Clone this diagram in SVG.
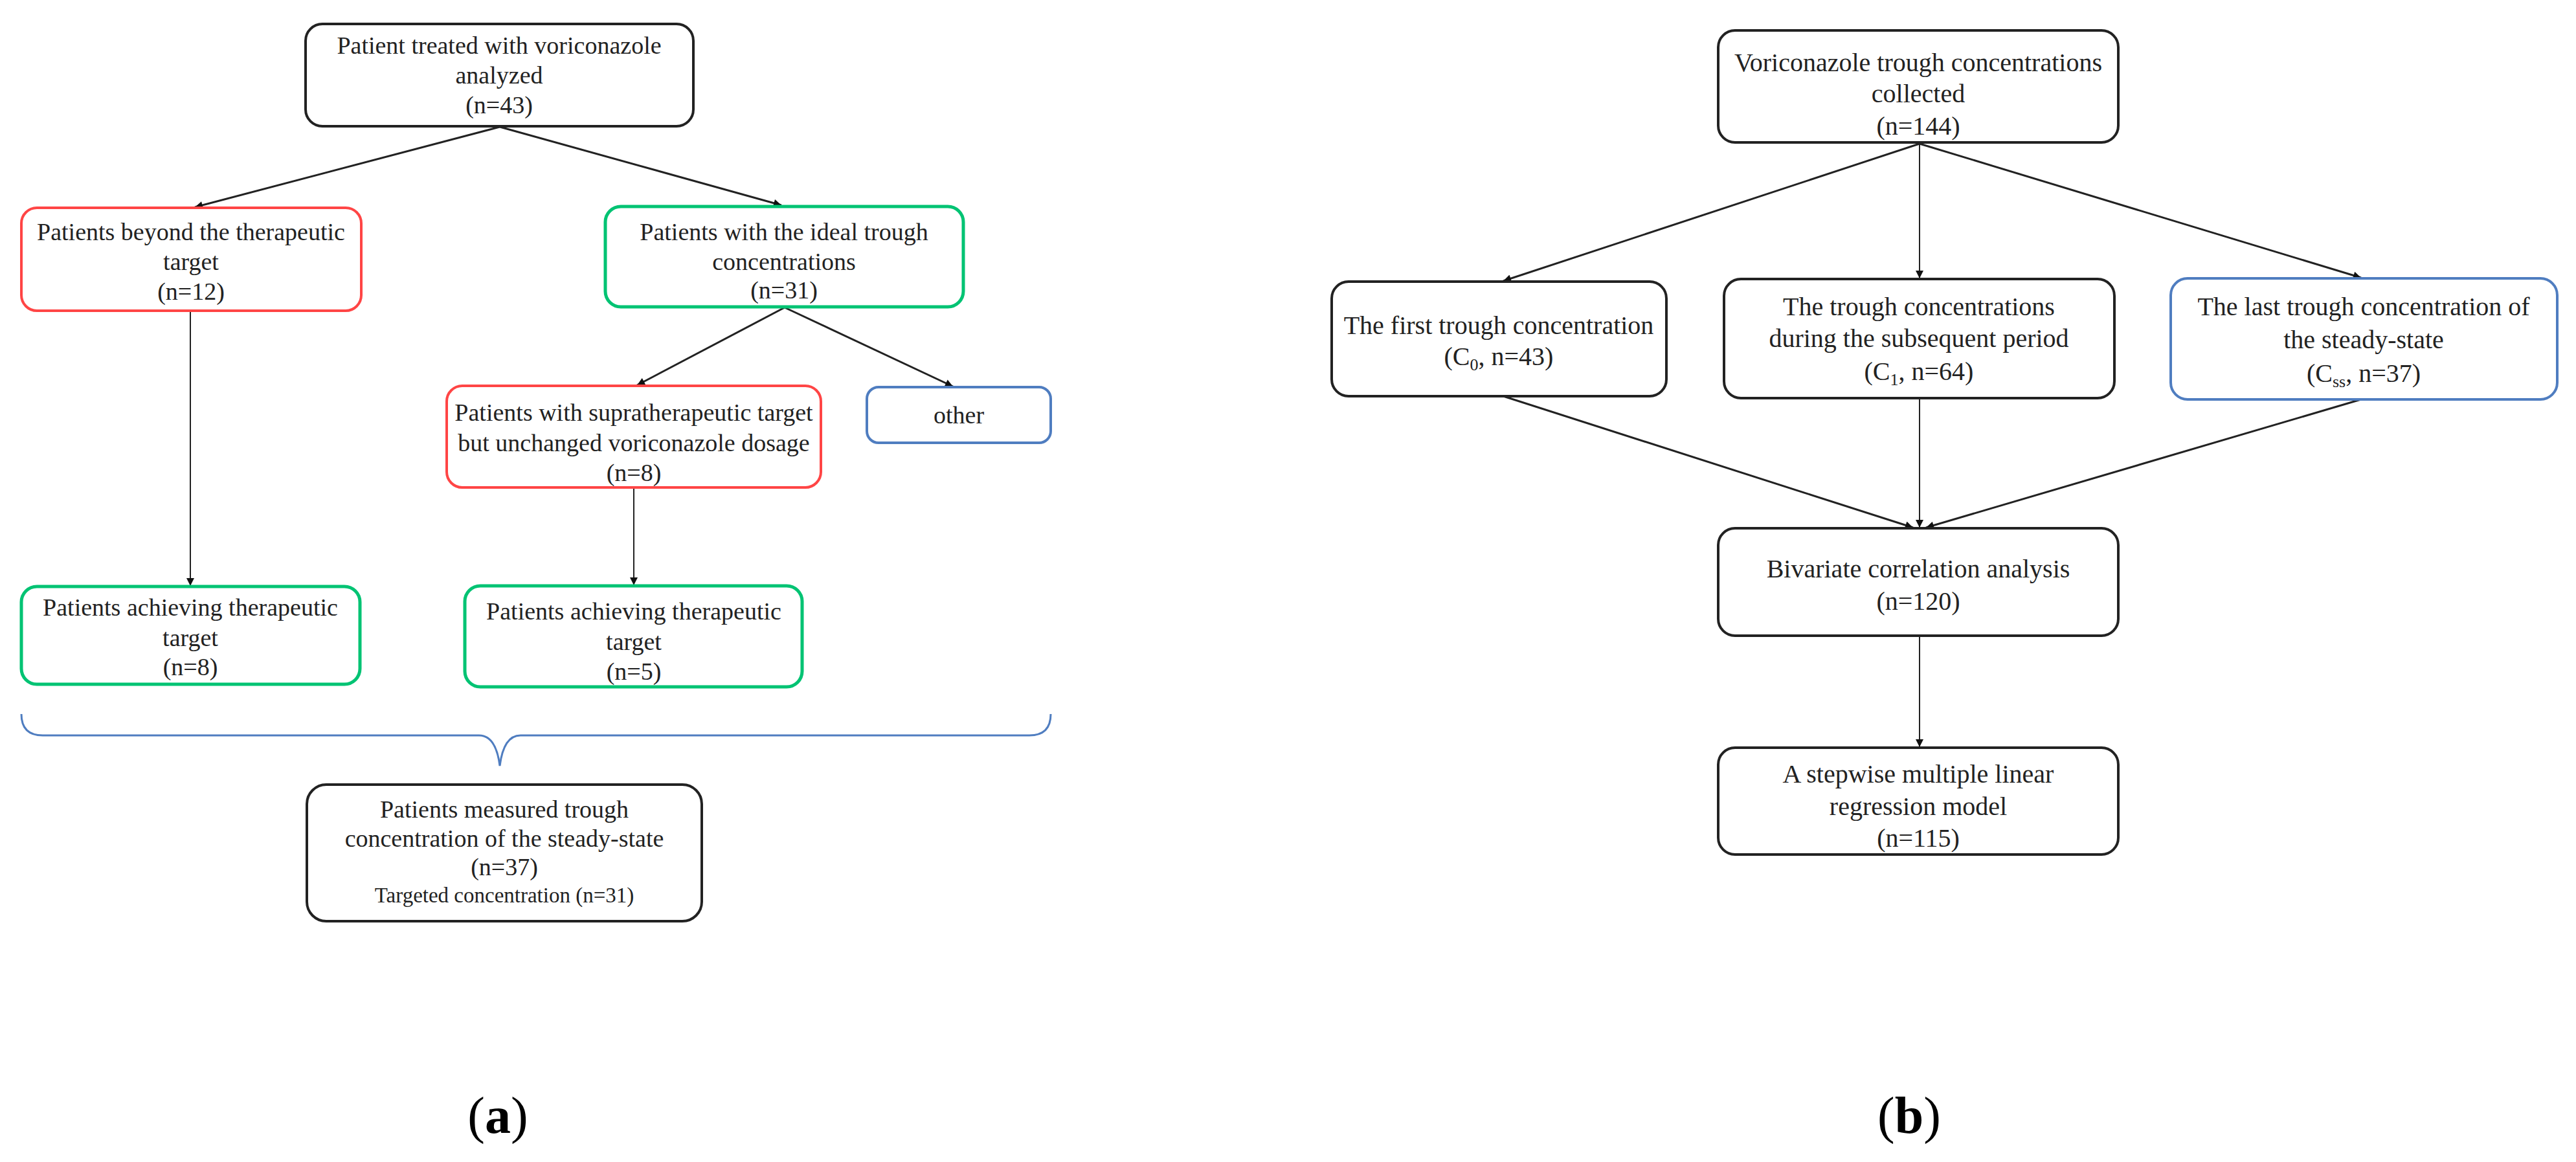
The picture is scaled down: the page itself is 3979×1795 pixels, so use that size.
<svg xmlns="http://www.w3.org/2000/svg" width="3979" height="1795" viewBox="0 0 3979 1795">
<style>
  .bx{fill:#fff;stroke:#222;stroke-width:4}
  .red{fill:#fff;stroke:#ff4545;stroke-width:4}
  .grn{fill:#fff;stroke:#00c373;stroke-width:5}
  .blu{fill:#fff;stroke:#4f7dc0;stroke-width:4}
  .t{font-family:"Liberation Serif","Times New Roman",serif;font-size:38px;fill:#222;text-anchor:middle}
  .tb{font-family:"Liberation Serif","Times New Roman",serif;font-size:40px;fill:#222;text-anchor:middle}
  .sm{font-size:33px}
  .ln{stroke:#222;stroke-width:3;fill:none}
  .lv{stroke:#222;stroke-width:2;fill:none}
  .lab{font-family:"Liberation Serif","Times New Roman",serif;font-size:80px;fill:#000;text-anchor:middle}
</style>
<defs>
  <marker id="ah" viewBox="0 0 10 10" refX="10" refY="5" markerWidth="14" markerHeight="12" markerUnits="userSpaceOnUse" orient="auto">
    <path d="M0,0 L10,5 L0,10 z" fill="#111"/>
  </marker>
</defs>

<g id="connectors">
  <line class="ln" x1="772" y1="196" x2="301" y2="320" marker-end="url(#ah)"/>
  <line class="ln" x1="772" y1="196" x2="1207" y2="317" marker-end="url(#ah)"/>
  <line class="lv" x1="294" y1="480" x2="294" y2="905" marker-end="url(#ah)"/>
  <line class="ln" x1="1212" y1="475" x2="984" y2="595" marker-end="url(#ah)"/>
  <line class="ln" x1="1212" y1="475" x2="1472" y2="597" marker-end="url(#ah)"/>
  <line class="lv" x1="979" y1="753" x2="979" y2="904" marker-end="url(#ah)"/>
  <path d="M33,1103 Q33,1136 66,1136 L740,1136 Q766,1136 772,1183 Q778,1136 804,1136 L1590,1136 Q1623,1136 1623,1103" fill="none" stroke="#4f7dc0" stroke-width="3"/>

  <line class="ln" x1="2965" y1="222" x2="2322" y2="434" marker-end="url(#ah)"/>
  <line class="lv" x1="2965" y1="222" x2="2965" y2="430" marker-end="url(#ah)"/>
  <line class="ln" x1="2965" y1="222" x2="3647" y2="429" marker-end="url(#ah)"/>
  <line class="ln" x1="2322" y1="612" x2="2955" y2="815" marker-end="url(#ah)"/>
  <line class="lv" x1="2965" y1="615" x2="2965" y2="815" marker-end="url(#ah)"/>
  <line class="ln" x1="3647" y1="617" x2="2975" y2="815" marker-end="url(#ah)"/>
  <line class="lv" x1="2965" y1="982" x2="2965" y2="1154" marker-end="url(#ah)"/>
</g>

<g id="a_top">
  <rect class="bx" x="472" y="37" width="599" height="158" rx="26"/>
  <text class="t" x="771" y="83">Patient treated with voriconazole</text>
  <text class="t" x="771" y="129">analyzed</text>
  <text class="t" x="771" y="175">(n=43)</text>
</g>
<g id="a_beyond">
  <rect class="red" x="33" y="321" width="525" height="159" rx="24"/>
  <text class="t" x="295" y="371">Patients beyond the therapeutic</text>
  <text class="t" x="295" y="417">target</text>
  <text class="t" x="295" y="463">(n=12)</text>
</g>
<g id="a_ideal">
  <rect class="grn" x="935" y="319" width="553" height="155" rx="24"/>
  <text class="t" x="1211" y="371">Patients with the ideal trough</text>
  <text class="t" x="1211" y="417">concentrations</text>
  <text class="t" x="1211" y="461">(n=31)</text>
</g>
<g id="a_supra">
  <rect class="red" x="690" y="596" width="578" height="157" rx="24"/>
  <text class="t" x="979" y="650">Patients with supratherapeutic target</text>
  <text class="t" x="979" y="697">but unchanged voriconazole  dosage</text>
  <text class="t" x="979" y="743">(n=8)</text>
</g>
<g id="a_other">
  <rect class="blu" x="1339" y="598" width="284" height="86" rx="18"/>
  <text class="t" x="1481" y="654">other</text>
</g>
<g id="a_achieve1">
  <rect class="grn" x="33" y="906" width="523" height="151" rx="24"/>
  <text class="t" x="294" y="951">Patients achieving  therapeutic</text>
  <text class="t" x="294" y="998">target</text>
  <text class="t" x="294" y="1043">(n=8)</text>
</g>
<g id="a_achieve2">
  <rect class="grn" x="718" y="905" width="521" height="156" rx="24"/>
  <text class="t" x="979" y="957">Patients achieving  therapeutic</text>
  <text class="t" x="979" y="1004">target</text>
  <text class="t" x="979" y="1050">(n=5)</text>
</g>
<g id="a_measured">
  <rect class="bx" x="474" y="1212" width="610" height="211" rx="30"/>
  <text class="t" x="779" y="1263">Patients measured trough</text>
  <text class="t" x="779" y="1308">concentration of the steady-state</text>
  <text class="t" x="779" y="1352">(n=37)</text>
  <text class="t sm" x="779" y="1394">Targeted concentration  (n=31)</text>
</g>

<g id="b_top">
  <rect class="bx" x="2654" y="47" width="618" height="173" rx="26"/>
  <text class="tb" x="2963" y="110">Voriconazole trough concentrations</text>
  <text class="tb" x="2963" y="158">collected</text>
  <text class="tb" x="2963" y="208">(n=144)</text>
</g>
<g id="b_first">
  <rect class="bx" x="2057" y="435" width="517" height="177" rx="26"/>
  <text class="tb" x="2315" y="516">The first trough concentration</text>
  <text class="tb" x="2315" y="564">(C<tspan font-size="26" dy="8">0</tspan><tspan dy="-8">, n=43)</tspan></text>
</g>
<g id="b_middle">
  <rect class="bx" x="2663" y="431" width="603" height="184" rx="26"/>
  <text class="tb" x="2964" y="487">The trough concentrations</text>
  <text class="tb" x="2964" y="536">during the subsequent period</text>
  <text class="tb" x="2964" y="587">(C<tspan font-size="26" dy="8">1</tspan><tspan dy="-8">, n=64)</tspan></text>
</g>
<g id="b_last">
  <rect class="blu" x="3353" y="430" width="597" height="187" rx="26"/>
  <text class="tb" x="3651" y="487">The last trough concentration of</text>
  <text class="tb" x="3651" y="538">the steady-state</text>
  <text class="tb" x="3651" y="590">(C<tspan font-size="26" dy="8">ss</tspan><tspan dy="-8">, n=37)</tspan></text>
</g>
<g id="b_bivariate">
  <rect class="bx" x="2654" y="816" width="618" height="166" rx="26"/>
  <text class="tb" x="2963" y="892">Bivariate  correlation analysis</text>
  <text class="tb" x="2963" y="942">(n=120)</text>
</g>
<g id="b_stepwise">
  <rect class="bx" x="2654" y="1155" width="618" height="165" rx="26"/>
  <text class="tb" x="2963" y="1209">A stepwise multiple  linear</text>
  <text class="tb" x="2963" y="1259">regression model</text>
  <text class="tb" x="2963" y="1308">(n=115)</text>
</g>

<g id="labels">
  <text class="lab" x="769" y="1750">(<tspan font-weight="bold">a</tspan>)</text>
  <text class="lab" x="2949" y="1750">(<tspan font-weight="bold">b</tspan>)</text>
</g>
</svg>
